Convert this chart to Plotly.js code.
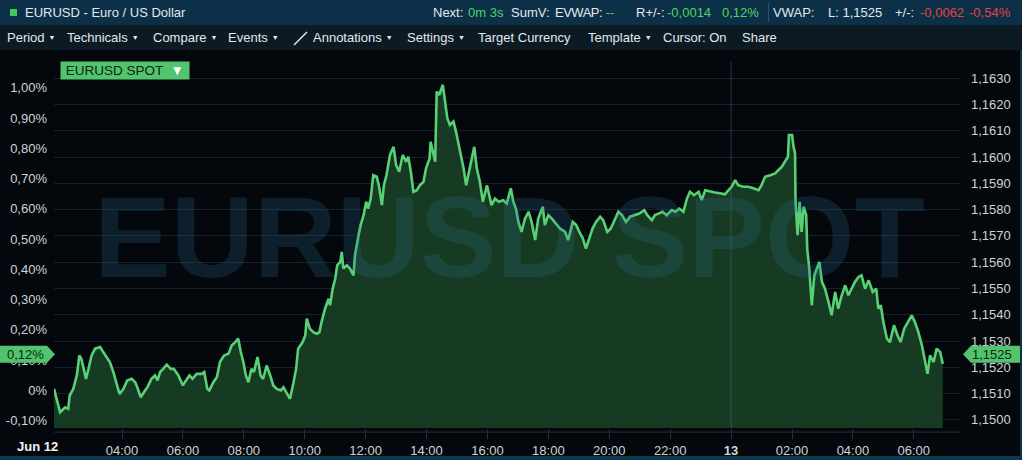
<!DOCTYPE html>
<html><head><meta charset="utf-8">
<script src="https://cdn.plot.ly/plotly-3.0.1.min.js"></script>
<style>
html,body{margin:0;padding:0;background:#04080c;width:1022px;height:460px;overflow:hidden;font-family:"Liberation Sans",Arial,sans-serif;}
#hdr{position:absolute;left:0;top:0;width:1022px;height:25px;background:#0c3047;}
#tb{position:absolute;left:0;top:25px;width:1022px;height:25px;background:#0c1a24;}
.t{position:absolute;white-space:nowrap;font-size:13px;color:#e4e8eb;line-height:25px;top:0;}
.g{color:#4fd463;}
.r{color:#e5423d;}
.dd{font-size:7px;margin-left:4px;position:relative;top:-2px;}
#chart{position:absolute;left:0;top:50px;width:1022px;height:410px;}
#bot{position:absolute;left:0;top:456px;width:1022px;height:4px;background:#0d3850;}
#rgt{position:absolute;left:1020px;top:50px;width:2px;height:410px;background:#0d3248;}
</style></head>
<body>
<div id="hdr">
  <div style="position:absolute;left:10px;top:9px;width:7px;height:7px;background:#3fcb57"></div>
  <span class="t" style="left:25px">EURUSD - Euro / US Dollar</span>
  <span class="t" style="left:433px">Next:</span>
  <span class="t g" style="left:468px">0m 3s</span>
  <span class="t" style="left:511px">SumV:</span>
  <span class="t" style="left:555px"><span style="letter-spacing:-0.5px">EVWAP:</span> <span class="g">--</span></span>
  <span class="t" style="left:636px">R+/-:</span>
  <span class="t g" style="left:667px">-0,0014</span>
  <span class="t g" style="left:722px">0,12%</span>
  <div style="position:absolute;left:768px;top:3px;width:1px;height:19px;background:#2b5670"></div>
  <span class="t" style="left:773px">VWAP:</span>
  <span class="t" style="left:828px">L: 1,1525</span>
  <span class="t" style="left:895px">+/-:</span>
  <span class="t r" style="left:920px">-0,0062</span>
  <span class="t r" style="left:969px">-0,54%</span>
</div>
<div id="tb">
  <span class="t" style="left:7px">Period<span class="dd">&#9660;</span></span>
  <span class="t" style="left:67px">Technicals<span class="dd">&#9660;</span></span>
  <span class="t" style="left:153px">Compare<span class="dd">&#9660;</span></span>
  <span class="t" style="left:228px">Events<span class="dd">&#9660;</span></span>
  <svg style="position:absolute;left:293px;top:5px" width="16" height="16"><line x1="1" y1="15" x2="14" y2="2" stroke="#e4e8eb" stroke-width="1.4"/></svg>
  <span class="t" style="left:313px">Annotations<span class="dd">&#9660;</span></span>
  <span class="t" style="left:407px">Settings<span class="dd">&#9660;</span></span>
  <span class="t" style="left:478px">Target Currency</span>
  <span class="t" style="left:588px">Template<span class="dd">&#9660;</span></span>
  <span class="t" style="left:663px">Cursor: On</span>
  <span class="t" style="left:742px">Share</span>
</div>
<div id="chart"></div>
<div id="bot"></div>
<div id="rgt"></div>
<script>
// ---- data ----
const times = [
"2025-06-12 01:46","2025-06-12 01:58","2025-06-12 02:08","2025-06-12 02:14","2025-06-12 02:17","2025-06-12 02:24","2025-06-12 02:31","2025-06-12 02:36","2025-06-12 02:40","2025-06-12 02:44",
"2025-06-12 02:49","2025-06-12 02:54","2025-06-12 03:00","2025-06-12 03:07","2025-06-12 03:17","2025-06-12 03:23","2025-06-12 03:30","2025-06-12 03:36","2025-06-12 03:43","2025-06-12 03:50",
"2025-06-12 03:55","2025-06-12 04:03","2025-06-12 04:10","2025-06-12 04:19","2025-06-12 04:26","2025-06-12 04:30","2025-06-12 04:37","2025-06-12 04:43","2025-06-12 04:50","2025-06-12 04:58",
"2025-06-12 05:05","2025-06-12 05:10","2025-06-12 05:15","2025-06-12 05:21","2025-06-12 05:28","2025-06-12 05:36","2025-06-12 05:42","2025-06-12 05:51","2025-06-12 06:00","2025-06-12 06:06",
"2025-06-12 06:13","2025-06-12 06:19","2025-06-12 06:27","2025-06-12 06:37","2025-06-12 06:42","2025-06-12 06:48","2025-06-12 06:52","2025-06-12 07:00","2025-06-12 07:07","2025-06-12 07:13",
"2025-06-12 07:21","2025-06-12 07:30","2025-06-12 07:36","2025-06-12 07:43","2025-06-12 07:49","2025-06-12 07:54","2025-06-12 07:59","2025-06-12 08:04","2025-06-12 08:09","2025-06-12 08:15",
"2025-06-12 08:20","2025-06-12 08:27","2025-06-12 08:33","2025-06-12 08:38","2025-06-12 08:45","2025-06-12 08:52","2025-06-12 08:58","2025-06-12 09:05","2025-06-12 09:13","2025-06-12 09:18",
"2025-06-12 09:24","2025-06-12 09:31","2025-06-12 09:38","2025-06-12 09:43","2025-06-12 09:47","2025-06-12 09:56","2025-06-12 10:01","2025-06-12 10:04","2025-06-12 10:10","2025-06-12 10:17",
"2025-06-12 10:24","2025-06-12 10:29","2025-06-12 10:33","2025-06-12 10:40","2025-06-12 10:47","2025-06-12 10:50","2025-06-12 10:55","2025-06-12 11:00","2025-06-12 11:04","2025-06-12 11:10",
"2025-06-12 11:13","2025-06-12 11:16","2025-06-12 11:23","2025-06-12 11:29","2025-06-12 11:36","2025-06-12 11:39","2025-06-12 11:46","2025-06-12 11:50","2025-06-12 11:56","2025-06-12 12:01",
"2025-06-12 12:05","2025-06-12 12:10","2025-06-12 12:15","2025-06-12 12:22","2025-06-12 12:27","2025-06-12 12:32","2025-06-12 12:36","2025-06-12 12:41","2025-06-12 12:48","2025-06-12 12:55",
"2025-06-12 13:00","2025-06-12 13:06","2025-06-12 13:13","2025-06-12 13:20","2025-06-12 13:24","2025-06-12 13:29","2025-06-12 13:34","2025-06-12 13:41","2025-06-12 13:47","2025-06-12 13:54",
"2025-06-12 13:59","2025-06-12 14:06","2025-06-12 14:08","2025-06-12 14:13","2025-06-12 14:17","2025-06-12 14:20","2025-06-12 14:25","2025-06-12 14:32","2025-06-12 14:36","2025-06-12 14:41",
"2025-06-12 14:46","2025-06-12 14:53","2025-06-12 14:58","2025-06-12 15:05","2025-06-12 15:13","2025-06-12 15:18","2025-06-12 15:22","2025-06-12 15:29","2025-06-12 15:34","2025-06-12 15:39",
"2025-06-12 15:45","2025-06-12 15:51","2025-06-12 15:59","2025-06-12 16:08","2025-06-12 16:15","2025-06-12 16:22","2025-06-12 16:31","2025-06-12 16:38","2025-06-12 16:46","2025-06-12 16:51",
"2025-06-12 16:56","2025-06-12 17:01","2025-06-12 17:07","2025-06-12 17:14","2025-06-12 17:21","2025-06-12 17:27","2025-06-12 17:34","2025-06-12 17:40","2025-06-12 17:49","2025-06-12 17:53",
"2025-06-12 18:00","2025-06-12 18:07","2025-06-12 18:13","2025-06-12 18:23","2025-06-12 18:33","2025-06-12 18:39","2025-06-12 18:48","2025-06-12 18:55","2025-06-12 19:01","2025-06-12 19:08",
"2025-06-12 19:14","2025-06-12 19:21","2025-06-12 19:27","2025-06-12 19:34","2025-06-12 19:42","2025-06-12 19:48","2025-06-12 19:56","2025-06-12 20:03","2025-06-12 20:09","2025-06-12 20:18",
"2025-06-12 20:25","2025-06-12 20:33","2025-06-12 20:41","2025-06-12 20:51","2025-06-12 20:59","2025-06-12 21:09","2025-06-12 21:15","2025-06-12 21:24","2025-06-12 21:30","2025-06-12 21:37",
"2025-06-12 21:45","2025-06-12 21:53","2025-06-12 22:03","2025-06-12 22:10","2025-06-12 22:18","2025-06-12 22:26","2025-06-12 22:33","2025-06-12 22:39","2025-06-12 22:47","2025-06-12 22:56",
"2025-06-12 23:02","2025-06-12 23:09","2025-06-12 23:19","2025-06-12 23:28","2025-06-12 23:38","2025-06-12 23:48","2025-06-12 23:55","2025-06-13 00:01","2025-06-13 00:08","2025-06-13 00:14",
"2025-06-13 00:24","2025-06-13 00:34","2025-06-13 00:44","2025-06-13 00:54","2025-06-13 01:00","2025-06-13 01:07","2025-06-13 01:17","2025-06-13 01:27","2025-06-13 01:33","2025-06-13 01:40",
"2025-06-13 01:46","2025-06-13 01:52","2025-06-13 01:54","2025-06-13 02:00","2025-06-13 02:03","2025-06-13 02:06","2025-06-13 02:07","2025-06-13 02:11","2025-06-13 02:15","2025-06-13 02:19",
"2025-06-13 02:23","2025-06-13 02:28","2025-06-13 02:30","2025-06-13 02:34","2025-06-13 02:39","2025-06-13 02:44","2025-06-13 02:49","2025-06-13 02:54","2025-06-13 02:59","2025-06-13 03:05",
"2025-06-13 03:12","2025-06-13 03:18","2025-06-13 03:25","2025-06-13 03:31","2025-06-13 03:38","2025-06-13 03:45","2025-06-13 03:51","2025-06-13 03:58","2025-06-13 04:04","2025-06-13 04:11",
"2025-06-13 04:17","2025-06-13 04:24","2025-06-13 04:31","2025-06-13 04:39","2025-06-13 04:46","2025-06-13 04:50","2025-06-13 04:55","2025-06-13 05:00","2025-06-13 05:07","2025-06-13 05:13",
"2025-06-13 05:21","2025-06-13 05:28","2025-06-13 05:34","2025-06-13 05:41","2025-06-13 05:49","2025-06-13 05:56","2025-06-13 06:02","2025-06-13 06:09","2025-06-13 06:16","2025-06-13 06:22",
"2025-06-13 06:27","2025-06-13 06:32","2025-06-13 06:39","2025-06-13 06:45","2025-06-13 06:52","2025-06-13 06:57"
];
const prices = [
1.15118,1.15029,1.15048,1.15042,1.15093,1.15118,1.15169,1.15245,1.15232,1.15194,
1.15156,1.15194,1.15245,1.15271,1.15277,1.15258,1.15239,1.15220,1.15182,1.15131,
1.15099,1.15118,1.15150,1.15156,1.15143,1.15124,1.15086,1.15105,1.15124,1.15156,
1.15169,1.15150,1.15182,1.15194,1.15210,1.15194,1.15194,1.15169,1.15131,1.15150,
1.15169,1.15156,1.15175,1.15175,1.15182,1.15118,1.15112,1.15143,1.15163,1.15220,
1.15245,1.15252,1.15283,1.15296,1.15309,1.15258,1.15220,1.15169,1.15143,1.15194,
1.15182,1.15239,1.15169,1.15156,1.15207,1.15169,1.15131,1.15118,1.15112,1.15124,
1.15105,1.15080,1.15143,1.15194,1.15271,1.15296,1.15321,1.15385,1.15347,1.15334,
1.15328,1.15334,1.15372,1.15423,1.15461,1.15436,1.15499,1.15537,1.15588,1.15601,
1.15639,1.15576,1.15588,1.15576,1.15550,1.15626,1.15703,1.15741,1.15779,1.15830,
1.15804,1.15842,1.15931,1.15925,1.15881,1.15817,1.15893,1.15931,1.16008,1.16039,
1.15970,1.15944,1.16008,1.15982,1.16001,1.15944,1.15868,1.15874,1.15893,1.15906,
1.15957,1.15995,1.16058,1.16008,1.15982,1.16249,1.16236,1.16275,1.16211,1.16147,
1.16122,1.16135,1.16097,1.16033,1.15957,1.15893,1.15931,1.15995,1.16039,1.15957,
1.15906,1.15830,1.15893,1.15817,1.15842,1.15830,1.15836,1.15823,1.15881,1.15830,
1.15804,1.15753,1.15715,1.15766,1.15792,1.15753,1.15684,1.15766,1.15811,1.15741,
1.15779,1.15766,1.15753,1.15728,1.15715,1.15684,1.15753,1.15741,1.15715,1.15690,
1.15652,1.15690,1.15728,1.15753,1.15773,1.15760,1.15715,1.15728,1.15753,1.15792,
1.15779,1.15753,1.15773,1.15779,1.15785,1.15798,1.15779,1.15760,1.15779,1.15785,
1.15792,1.15779,1.15798,1.15792,1.15804,1.15792,1.15842,1.15868,1.15855,1.15868,
1.15836,1.15874,1.15868,1.15865,1.15862,1.15858,1.15874,1.15887,1.15912,1.15893,
1.15887,1.15887,1.15881,1.15874,1.15893,1.15925,1.15931,1.15938,1.15950,1.15963,
1.15982,1.16001,1.16084,1.16084,1.16039,1.16014,1.15830,1.15703,1.15830,1.15715,
1.15811,1.15779,1.15652,1.15576,1.15436,1.15550,1.15576,1.15601,1.15525,1.15499,
1.15448,1.15398,1.15487,1.15423,1.15474,1.15512,1.15474,1.15499,1.15525,1.15544,
1.15550,1.15499,1.15531,1.15487,1.15499,1.15423,1.15436,1.15372,1.15309,1.15296,
1.15360,1.15321,1.15296,1.15347,1.15372,1.15398,1.15372,1.15334,1.15283,1.15220,
1.15175,1.15245,1.15220,1.15271,1.15258,1.15213
];
const basePrice = 1.15112;     // price at 0 %
const lastPrice = 1.1525;
const lastPriceText = "1,1525";
const lastPctText = "0,12%";
const seriesName = "EURUSD SPOT";
const xTickVals = ["2025-06-12 04:00","2025-06-12 06:00","2025-06-12 08:00","2025-06-12 10:00","2025-06-12 12:00","2025-06-12 14:00","2025-06-12 16:00","2025-06-12 18:00","2025-06-12 20:00","2025-06-12 22:00","2025-06-13 00:00","2025-06-13 02:00","2025-06-13 04:00","2025-06-13 06:00"];
const xTickText = ["04:00","06:00","08:00","10:00","12:00","14:00","16:00","18:00","20:00","22:00","<b>13</b>","02:00","04:00","06:00"];
const pctTickVals = [-0.1,0,0.1,0.2,0.3,0.4,0.5,0.6,0.7,0.8,0.9,1.0];
const pctTickText = ["-0,10%","0%","0,10%","0,20%","0,30%","0,40%","0,50%","0,60%","0,70%","0,80%","0,90%","1,00%"];

// ---- chart ----
const FONT = '"Liberation Sans", Arial, sans-serif';
const priceRange = [1.14969, 1.16377];
const pct = p => (p / basePrice - 1) * 100;
const tagGreen = '#52c46e';
const tickFont = {family: FONT, color: '#cfd3d7', size: 13};

const trace = {
  x: times, y: prices, type: 'scatter', mode: 'lines',
  line: {color: '#58d076', width: 2.6},
  fill: 'tozeroy', fillcolor: '#173a22',
  yaxis: 'y', hoverinfo: 'skip'
};
// invisible companion so that the percent axis (left) is built
const pctTrace = {
  x: times, y: prices.map(pct), type: 'scatter', mode: 'lines',
  line: {color: 'rgba(0,0,0,0)', width: 0}, yaxis: 'y2', hoverinfo: 'skip'
};

const layout = {
  width: 1022, height: 410,
  margin: {l: 54, r: 62, t: 8, b: 32},
  paper_bgcolor: 'rgba(0,0,0,0)', plot_bgcolor: '#04080c',
  separators: ',.',
  showlegend: false,
  font: {family: FONT, color: '#cfd3d7', size: 12},
  xaxis: {
    type: 'date', range: ['2025-06-12 01:46', '2025-06-13 07:31'],
    tickvals: xTickVals, ticktext: xTickText,
    ticks: 'outside', ticklen: 10, tickcolor: '#1c3342', tickwidth: 1,
    showgrid: false, zeroline: false, showline: false,
    tickfont: tickFont
  },
  yaxis: {
    side: 'right', range: priceRange, tick0: 1.15, dtick: 0.001, tickformat: '.4f',
    showgrid: true, gridcolor: '#15222d', gridwidth: 1, zeroline: false, showline: false,
    ticks: '', ticklabelstandoff: 10,
    tickfont: tickFont
  },
  yaxis2: {
    overlaying: 'y', side: 'left', range: priceRange.map(pct), anchor: 'x',
    tickvals: pctTickVals, ticktext: pctTickText,
    showgrid: false, zeroline: false, showline: false, ticks: '', ticklabelstandoff: 6,
    tickfont: tickFont
  },
  shapes: [
    {type: 'line', xref: 'x', yref: 'paper', x0: '2025-06-13 00:00', x1: '2025-06-13 00:00', y0: 0, y1: 0.99,
     line: {color: 'rgba(90,140,160,0.35)', width: 1}, layer: 'above'},
    {type: 'line', xref: 'paper', yref: 'paper', x0: 0, x1: 1, y0: -0.011, y1: -0.011,
     line: {color: '#1c3342', width: 1}},
    {type: 'path', xref: 'paper', yref: 'y', xsizemode: 'pixel', ysizemode: 'pixel',
     xanchor: 0, yanchor: lastPrice,
     path: 'M 1,0 L -7,8.5 L -54,8.5 L -54,-8.5 L -7,-8.5 Z',
     fillcolor: tagGreen, line: {width: 0}, layer: 'above'},
    {type: 'path', xref: 'paper', yref: 'y', xsizemode: 'pixel', ysizemode: 'pixel',
     xanchor: 1, yanchor: lastPrice,
     path: 'M 3,0 L 11,8.5 L 60,8.5 L 60,-8.5 L 11,-8.5 Z',
     fillcolor: tagGreen, line: {width: 0}, layer: 'above'}
  ],
  annotations: [
    {text: '<b>EURUSD SPOT</b>', xref: 'paper', yref: 'paper', x: 0.503, y: 0.516,
     xanchor: 'center', yanchor: 'middle', showarrow: false,
     font: {family: FONT, size: 115, color: 'rgba(40,115,150,0.22)'}},
    {text: ' ' + seriesName + '  <span style="color:#ffffff">▼</span> ', xref: 'paper', yref: 'paper', x: 0.0066, y: 0.965,
     xanchor: 'left', yanchor: 'middle', showarrow: false, bgcolor: tagGreen, borderpad: 1,
     font: {family: FONT, size: 13.5, color: '#0b2613'}},
    {text: lastPctText, xref: 'paper', yref: 'y', x: -0.031, y: lastPrice,
     xanchor: 'center', yanchor: 'middle', showarrow: false,
     font: {family: FONT, size: 13, color: '#0b2613'}},
    {text: lastPriceText, xref: 'paper', yref: 'y', x: 1.0355, y: lastPrice,
     xanchor: 'center', yanchor: 'middle', showarrow: false,
     font: {family: FONT, size: 13, color: '#0b2613'}},
    {text: '<b>Jun 12</b>', xref: 'paper', yref: 'paper', x: -0.043, y: -0.051,
     xanchor: 'left', yanchor: 'middle', showarrow: false,
     font: {family: FONT, size: 13, color: '#f0f2f4'}}
  ]
};

Plotly.newPlot('chart', [trace, pctTrace], layout, {displayModeBar: false, staticPlot: true});
</script>
</body></html>
